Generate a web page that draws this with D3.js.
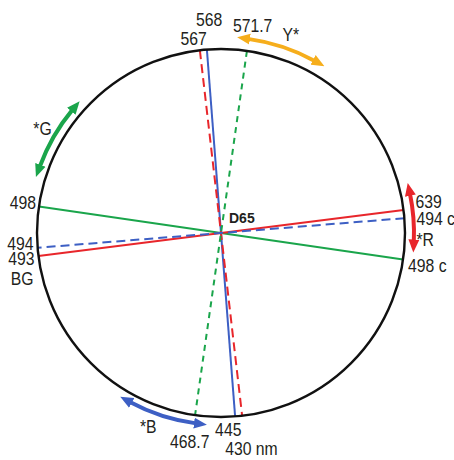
<!DOCTYPE html>
<html>
<head>
<meta charset="utf-8">
<script src="https://cdn.jsdelivr.net/npm/d3@7"></script>
<style>
  html, body { margin: 0; padding: 0; background: #fff; }
  svg { display: block; }
  .lbl { font-family: "Liberation Sans", Arial, sans-serif; font-size: 19px; fill: #231f20; }
  .d65 { font-family: "Liberation Sans", Arial, sans-serif; font-size: 14px; font-weight: bold; fill: #231f20; }
</style>
</head>
<body>
<svg id="chart" width="454" height="460"></svg>
<script>
// Hue lines through the white point: each joins a hue and its complementary hue.
// Angles are hue angles in degrees, measured clockwise from 12 o'clock.
const lineIds    = ["568-445", "567-430", "571.7-468.7", "498-498c", "639-493", "494c-494"];
const lineAngles = [-4.4, -6.6, 8.1, 98.3, 82.8, 85.4];

// Wavelength labels at both ends of each hue line (first end, opposite end)
const startLabels = ["568", "567", "571.7", "498 c", "639", "494 c"];
const endLabels   = ["445", "430 nm", "468.7", "498", "493", "494"];

// Unique-hue ranges drawn as double-headed arcs outside the circle
const rangeNames = ["Y*", "*G", "*R", "*B"];
const rangeFrom  = [4.7, -47.0, 75.0, 211.6];
const rangeTo    = [31.8, -73.2, 95.8, 184.2];

const whitePoint = "D65";

// ---- styles & layout ----
const lineStyle = {
  "568-445":     { color: "#3d5fc4", dash: null },
  "567-430":     { color: "#e8262b", dash: "9 5" },
  "571.7-468.7": { color: "#1aa54b", dash: "6 5" },
  "498-498c":    { color: "#1aa54b", dash: null },
  "639-493":     { color: "#e8262b", dash: null },
  "494c-494":    { color: "#3d5fc4", dash: "9 5" }
};
// label offsets from the line ends [dx, dy, anchor]
const startOffsets = [[-11, -24, "start"], [7, -5, "end"], [-14, -19, "start"], [5, 12, "start"], [12, -2, "start"], [12, 7, "start"]];
const endOffsets   = [[-20, 20, "start"], [-17, 39, "start"], [-25, 33, "start"], [-3, 3, "end"], [-4, 9, "end"], [-4, 2, "end"]];

const rangeStyle = {
  "Y*": { color: "#f6ae1c", r: 196, label: [0, -6, "start"] },
  "*G": { color: "#1aa54b", r: 193, label: [-2, -2, "end"] },
  "*R": { color: "#e8262b", r: 193, label: [3, 28, "start"] },
  "*B": { color: "#3d5fc4", r: 192, label: [-22, 17, "start"] }
};

const cx = 221, cy = 233, R = 184;
const squeeze = 0.83;   // condensed lettering

const svg = d3.select("#chart");

// compass-angle scale (degrees -> radians)
const ang = d3.scaleLinear().domain([0, 360]).range([0, 2 * Math.PI]);
const polar = (deg, r) => [cx + r * Math.sin(ang(deg)), cy - r * Math.cos(ang(deg))];

function label(g, x, y, anchor, txt) {
  g.append("text").attr("class", "lbl")
    .attr("transform", `translate(${x},${y}) scale(${squeeze},1)`)
    .attr("text-anchor", anchor)
    .text(txt);
}

// hue lines
const lines = lineIds.map((id, i) => ({ id, a: lineAngles[i], s: startLabels[i], e: endLabels[i], so: startOffsets[i], eo: endOffsets[i] }));

svg.append("g").selectAll("line").data(lines).join("line")
  .attr("x1", d => polar(d.a, R)[0])
  .attr("y1", d => polar(d.a, R)[1])
  .attr("x2", d => polar(d.a + 180, R)[0])
  .attr("y2", d => polar(d.a + 180, R)[1])
  .attr("stroke", d => lineStyle[d.id].color)
  .attr("stroke-width", 2)
  .attr("stroke-dasharray", d => lineStyle[d.id].dash);

// hue circle
svg.append("circle")
  .attr("cx", cx).attr("cy", cy).attr("r", R)
  .attr("fill", "none").attr("stroke", "#111").attr("stroke-width", 2.4);

// wavelength labels
const labelG = svg.append("g");
lines.forEach(d => {
  const p = polar(d.a, R), q = polar(d.a + 180, R);
  label(labelG, p[0] + d.so[0], p[1] + d.so[1], d.so[2], d.s);
  label(labelG, q[0] + d.eo[0], q[1] + d.eo[1], d.eo[2], d.e);
});
// Bluish-green tag under the 493 label
{
  const q = polar(lineAngles[4] + 180, R);
  label(labelG, q[0] - 5, q[1] + 29, "end", "BG");
}

// white point label
svg.append("text").attr("class", "d65")
  .attr("x", cx + 8).attr("y", cy - 10).text(whitePoint);

// range arrows
const defs = svg.append("defs");
const headLen = 12;
rangeNames.forEach(n => {
  const st = rangeStyle[n];
  defs.append("marker")
    .attr("id", "head-" + n.replace("*", "s"))
    .attr("markerUnits", "userSpaceOnUse")
    .attr("viewBox", "0 -6 13 12")
    .attr("refX", 2).attr("refY", 0)
    .attr("markerWidth", 13).attr("markerHeight", 12)
    .attr("orient", "auto-start-reverse")
    .append("path").attr("d", "M0,-5.5L13,0L0,5.5Z").attr("fill", st.color);
});

const rangeG = svg.append("g");
rangeNames.forEach((n, i) => {
  const st = rangeStyle[n];
  const a0 = rangeFrom[i], a1 = rangeTo[i];
  const dir = a1 > a0 ? 1 : -1;
  // pull the shaft in so the arrow tips land on the range ends
  const trim = (headLen - 1) / st.r * 180 / Math.PI;
  const s = a0 + dir * trim, e = a1 - dir * trim;
  const p = d3.path();
  const p0 = polar(s, st.r);
  p.moveTo(p0[0], p0[1]);
  p.arc(cx, cy, st.r, ang(s - 90), ang(e - 90), dir < 0);
  rangeG.append("path")
    .attr("d", p.toString())
    .attr("fill", "none")
    .attr("stroke", st.color)
    .attr("stroke-width", 4)
    .attr("marker-start", `url(#head-${n.replace("*", "s")})`)
    .attr("marker-end", `url(#head-${n.replace("*", "s")})`);
  const m = polar((a0 + a1) / 2, st.r);
  label(rangeG, m[0] + st.label[0], m[1] + st.label[1], st.label[2], n);
});
</script>
</body>
</html>
